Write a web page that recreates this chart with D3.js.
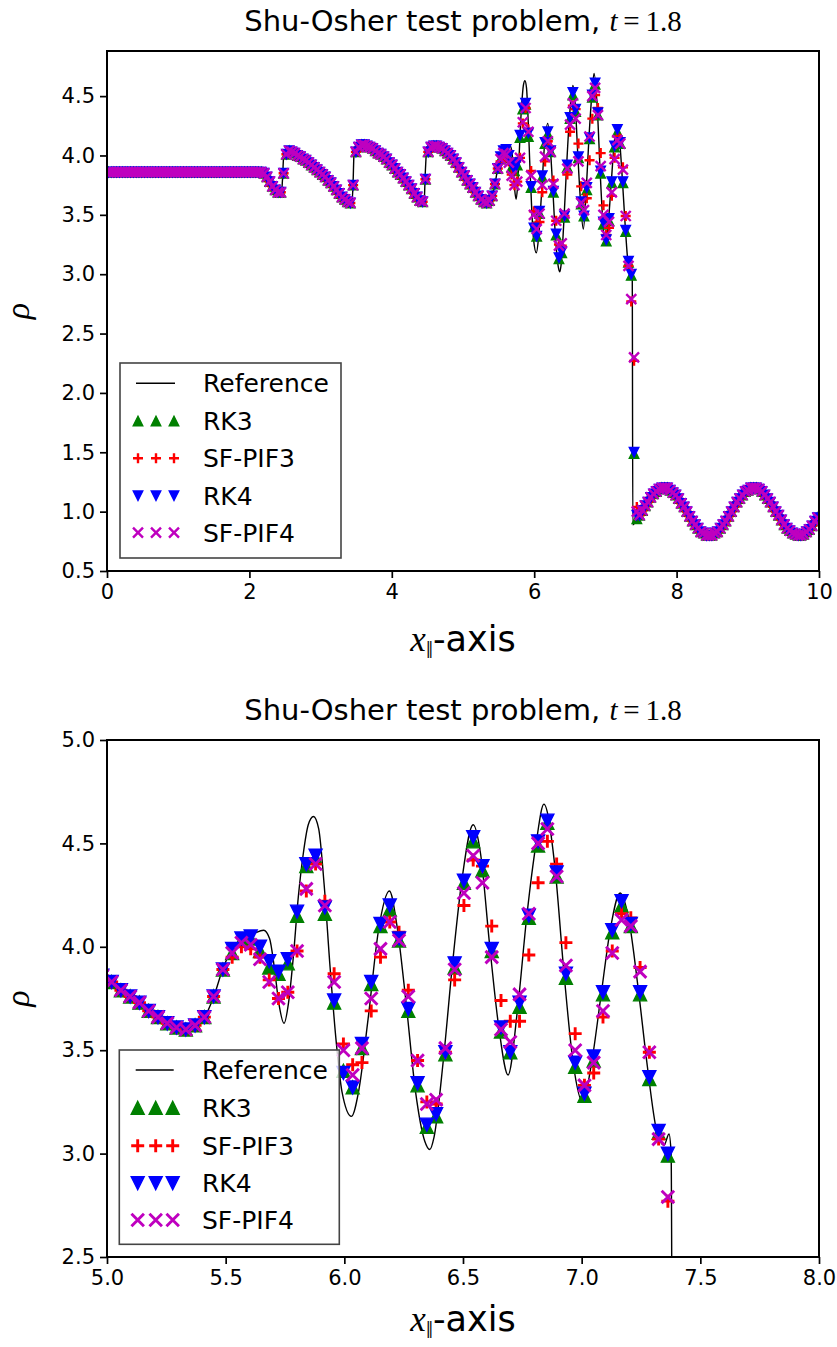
<!DOCTYPE html>
<html><head><meta charset="utf-8">
<script src="https://cdn.jsdelivr.net/npm/d3@7"></script>
<style>body{margin:0;background:#fff}svg{display:block}</style>
</head><body>
<svg id="c" width="837" height="1347"></svg>
<script>
// ---------------- DATA ----------------
const N_CELLS = 256;            // uniform grid on [0,10], cell centres
const X_MIN = 0, X_MAX = 10;

// density shared by all four schemes, cells 0..140
const rhoLeft = [
3.86,3.86,3.86,3.86,3.86,3.86,3.86,3.86,3.86,3.86,
3.86,3.86,3.86,3.86,3.86,3.86,3.86,3.86,3.86,3.86,
3.86,3.86,3.86,3.86,3.86,3.86,3.86,3.86,3.86,3.86,
3.86,3.86,3.86,3.86,3.86,3.86,3.86,3.86,3.86,3.86,
3.86,3.86,3.86,3.86,3.86,3.86,3.86,3.86,3.86,3.86,
3.86,3.86,3.86,3.86,3.86,3.86,3.85,3.82,3.78,3.74,
3.71,3.69,3.69,3.85,4.01,4.04,4.03,4.02,4.00,3.99,
3.97,3.96,3.94,3.92,3.90,3.88,3.86,3.84,3.82,3.79,
3.77,3.74,3.71,3.68,3.65,3.63,3.61,3.60,3.75,4.03,
4.07,4.09,4.09,4.08,4.07,4.06,4.04,4.02,4.01,3.99,
3.97,3.94,3.92,3.89,3.86,3.84,3.81,3.78,3.75,3.72,
3.68,3.65,3.62,3.61,3.80,4.03,4.07,4.08,4.08,4.07,
4.06,4.04,4.02,4.00,3.97,3.94,3.90,3.86,3.83,3.79,
3.76,3.73,3.69,3.66,3.63,3.61,3.60,3.62,3.66,3.76,
3.89];

// oscillatory zone, cells 141..190, one array per scheme
const rk3Osc = [
3.97,4.03,4.04,3.98,3.90,3.87,3.92,4.15,4.39,4.43,
4.16,3.73,3.40,3.32,3.51,3.82,4.10,4.18,4.03,3.69,
3.33,3.13,3.18,3.48,3.90,4.31,4.51,4.37,3.98,3.59,
3.49,3.71,4.14,4.49,4.60,4.34,3.85,3.42,3.28,3.45,
3.77,4.07,4.20,4.10,3.77,3.36,3.10,2.99,1.49,0.94];
const sfpif3Osc = [
3.95,4.00,3.99,3.95,3.84,3.75,3.78,3.98,4.27,4.40,
4.22,3.87,3.53,3.43,3.44,3.69,3.95,4.12,4.07,3.79,
3.45,3.25,3.24,3.49,3.84,4.20,4.42,4.39,4.10,3.74,
3.64,3.64,3.96,4.31,4.51,4.40,4.02,3.58,3.33,3.39,
3.66,3.98,4.16,4.14,3.90,3.49,3.07,2.77,2.27,1.04];
const rk4Osc = [
3.99,4.04,4.05,4.00,3.93,3.88,3.94,4.17,4.40,4.44,
4.19,3.74,3.39,3.32,3.53,3.83,4.11,4.20,4.04,3.70,
3.34,3.14,3.19,3.49,3.92,4.32,4.53,4.39,3.99,3.61,
3.49,3.73,4.15,4.51,4.61,4.36,3.87,3.44,3.29,3.47,
3.78,4.08,4.22,4.11,3.78,3.37,3.11,3.00,1.50,0.97];
const sfpif4Osc = [
3.97,4.02,4.01,3.94,3.83,3.75,3.78,3.98,4.28,4.40,
4.20,3.83,3.50,3.38,3.51,3.75,3.99,4.12,4.03,3.76,
3.45,3.24,3.26,3.51,3.89,4.26,4.44,4.31,3.95,3.60,
3.54,3.77,4.16,4.50,4.57,4.34,3.91,3.50,3.33,3.44,
3.69,3.97,4.13,4.10,3.88,3.49,3.07,2.79,2.30,1.00];

// pre-shock entropy wave, shared, cells 191..255
const rhoRight = [
0.97,1.01,1.05,1.08,1.12,1.15,1.17,1.19,1.20,1.20,
1.20,1.18,1.16,1.14,1.11,1.07,1.04,1.00,0.96,0.92,
0.89,0.86,0.83,0.82,0.80,0.80,0.80,0.82,0.83,0.86,
0.89,0.92,0.96,1.00,1.04,1.08,1.11,1.14,1.17,1.18,
1.20,1.20,1.20,1.19,1.17,1.14,1.11,1.08,1.04,1.00,
0.97,0.93,0.89,0.86,0.84,0.82,0.81,0.80,0.80,0.81,
0.83,0.85,0.88,0.92,0.95];

// fine reference solution
const refX = [0,2.15,2.22,2.28,2.34,2.40,2.45,2.465,2.48,2.50,2.56,2.65,2.75,2.85,2.95,3.05,3.15,3.25,3.32,3.40,
3.44,3.455,3.47,3.50,3.58,3.70,3.80,3.90,4.00,4.10,4.20,4.30,4.37,4.42,4.455,4.47,4.49,4.55,4.63,4.75,
4.85,4.95,5.02,5.10,5.18,5.25,5.33,5.40,5.45,5.49,5.53,5.57,5.60,5.63,5.66,5.685,5.705,5.725,5.746,5.765,
5.785,5.806,5.827,5.848,5.870,5.892,5.915,5.94,5.965,5.99,6.03,6.06,6.10,6.144,6.19,6.222,6.261,6.30,6.339,6.36,
6.378,6.417,6.456,6.495,6.543,6.574,6.613,6.652,6.69,6.73,6.769,6.808,6.841,6.886,6.925,6.964,7.004,7.042,7.081,7.120,
7.162,7.199,7.238,7.277,7.316,7.347,7.368,7.377,7.385,7.44,7.52,7.60,7.70,7.78,7.83,7.90,8.00,8.10,8.20,8.30,
8.40,8.455,8.52,8.60,8.70,8.80,8.90,9.00,9.084,9.15,9.25,9.35,9.45,9.55,9.65,9.71,9.80,9.90,10.0];
const refY = [3.857,3.857,3.84,3.79,3.73,3.69,3.68,3.80,3.98,4.02,4.04,4.01,3.97,3.93,3.88,3.83,3.77,3.69,3.64,3.60,
3.60,3.75,4.02,4.07,4.09,4.06,4.02,3.97,3.92,3.85,3.77,3.69,3.63,3.60,3.62,3.85,4.04,4.08,4.08,4.04,
3.97,3.88,3.83,3.76,3.69,3.63,3.60,3.64,3.76,3.90,3.99,4.03,4.05,4.07,4.08,4.04,3.90,3.72,3.63,3.73,
3.95,4.24,4.45,4.59,4.63,4.57,4.30,3.90,3.55,3.30,3.18,3.30,3.65,4.08,4.27,4.10,3.72,3.30,3.06,3.02,
3.08,3.45,3.92,4.32,4.59,4.45,4.00,3.60,3.38,3.70,4.15,4.50,4.69,4.40,3.88,3.44,3.25,3.44,3.76,4.08,
4.26,4.13,3.80,3.42,3.11,3.04,3.095,3.00,0.89,0.93,1.01,1.08,1.16,1.19,1.20,1.19,1.13,1.04,0.94,0.86,
0.81,0.80,0.81,0.86,0.94,1.03,1.12,1.18,1.20,1.19,1.14,1.05,0.96,0.87,0.82,0.80,0.82,0.89,0.97];

const seriesNames = ["RK3","SF-PIF3","RK4","SF-PIF4"];
const seriesColors = ["#008000","#ff0000","#0000ff","#bf00bf"];
const seriesMarkers = ["triUp","plus","triDown","cross"];
const seriesOsc = [rk3Osc, sfpif3Osc, rk4Osc, sfpif4Osc];

const topXTicks = [0,2,4,6,8,10];
const topYTicks = [0.5,1.0,1.5,2.0,2.5,3.0,3.5,4.0,4.5];
const botXTicks = [5.0,5.5,6.0,6.5,7.0,7.5,8.0];
const botYTicks = [2.5,3.0,3.5,4.0,4.5,5.0];
const titleText = "Shu-Osher test problem, ";

// ---------------- BUILD ----------------
const xGrid = d3.range(N_CELLS).map(i => X_MIN + (i + 0.5) * (X_MAX - X_MIN) / N_CELLS);
const series = seriesNames.map((name, k) => ({
  name, color: seriesColors[k], marker: seriesMarkers[k],
  values: rhoLeft.concat(seriesOsc[k], rhoRight)
}));
const refPts = d3.zip(refX, refY);

const SANS = "'DejaVu Sans', sans-serif";
const SERIF = "'Liberation Serif', 'DejaVu Serif', serif";
const svg = d3.select("#c");
const defs = svg.append("defs");

function markerPath(type, s) {
  const h = s / 2;
  switch (type) {
    case "triUp": return `M0,${-h}L${-h},${h}L${h},${h}Z`;
    case "triDown": return `M0,${h}L${-h},${-h}L${h},${-h}Z`;
    case "plus": return `M${-h},0H${h}M0,${-h}V${h}`;
    case "cross": return `M${-h},${-h}L${h},${h}M${-h},${h}L${h},${-h}`;
  }
}
function styleMarker(sel, s, sz) {
  const filled = s.marker.startsWith("tri");
  sel.attr("d", markerPath(s.marker, filled ? sz.tri : (s.marker === "plus" ? sz.plus : sz.cross)))
     .attr("fill", filled ? s.color : "none")
     .attr("stroke", s.color)
     .attr("stroke-width", filled ? sz.triEdge : sz.stroke)
     .attr("stroke-linejoin", "miter");
}

function drawPanel(cfg) {
  const x = d3.scaleLinear().domain(cfg.xDomain).range([cfg.left, cfg.right]);
  const y = d3.scaleLinear().domain(cfg.yDomain).range([cfg.bottom, cfg.top]);
  const clipId = "clip" + cfg.id;
  defs.append("clipPath").attr("id", clipId).append("rect")
    .attr("x", cfg.left).attr("y", cfg.top)
    .attr("width", cfg.right - cfg.left).attr("height", cfg.bottom - cfg.top);
  const g = svg.append("g");
  const plot = g.append("g").attr("clip-path", `url(#${clipId})`);

  plot.append("path").datum(refPts)
    .attr("d", d3.line().x(d => x(d[0])).y(d => y(d[1])).curve(d3.curveMonotoneX))
    .attr("fill", "none").attr("stroke", "#000").attr("stroke-width", 1.4);

  series.forEach(s => {
    plot.append("g").selectAll("path")
      .data(xGrid.map((xv, i) => [xv, s.values[i]]))
      .join("path")
      .attr("transform", d => `translate(${x(d[0])},${y(d[1])})`)
      .call(styleMarker, s, cfg.sz);
  });

  // axes
  const xa = g.append("g").attr("transform", `translate(0,${cfg.bottom})`)
    .call(d3.axisBottom(x).tickValues(cfg.xTicks).tickFormat(cfg.xFmt).tickSizeInner(7).tickSizeOuter(0).tickPadding(6));
  const ya = g.append("g").attr("transform", `translate(${cfg.left},0)`)
    .call(d3.axisLeft(y).tickValues(cfg.yTicks).tickFormat(d3.format(".1f")).tickSizeInner(7).tickSizeOuter(0).tickPadding(5));
  [xa, ya].forEach(a => {
    a.select(".domain").remove();
    a.selectAll(".tick line").attr("stroke", "#000").attr("stroke-width", 1.7);
    a.selectAll(".tick text").attr("font-family", SANS).attr("font-size", 21).attr("fill", "#000");
  });
  g.append("rect").attr("x", cfg.left).attr("y", cfg.top)
    .attr("width", cfg.right - cfg.left).attr("height", cfg.bottom - cfg.top)
    .attr("fill", "none").attr("stroke", "#000").attr("stroke-width", 2);

  // title
  const t = g.append("text").attr("x", (cfg.left + cfg.right) / 2).attr("y", cfg.titleY)
    .attr("text-anchor", "middle").attr("font-size", 29).attr("font-family", SANS);
  t.append("tspan").text(titleText);
  t.append("tspan").attr("font-family", SERIF).attr("font-style", "italic").text("t");
  t.append("tspan").attr("font-family", SERIF).text("\u2009=\u20091.8");

  // x label
  const xl = g.append("text").attr("x", (cfg.left + cfg.right) / 2).attr("y", cfg.xlabelY)
    .attr("text-anchor", "middle").attr("font-size", 35).attr("font-family", SANS);
  xl.append("tspan").attr("font-family", SERIF).attr("font-style", "italic").text("x");
  xl.append("tspan").attr("font-family", SERIF).attr("font-size", 25).attr("dy", 7).text("\u2016");
  xl.append("tspan").attr("dy", -7).text("-axis");

  // y label
  g.append("text").attr("transform", `translate(${cfg.ylabelX},${(cfg.top + cfg.bottom) / 2}) rotate(-90)`)
    .attr("text-anchor", "middle").attr("font-family", SERIF).attr("font-style", "italic")
    .attr("font-size", 34).text("\u03c1");

  // legend
  const L = cfg.legend;
  const lg = g.append("g");
  lg.append("rect").attr("x", L.x0).attr("y", L.y0).attr("width", L.x1 - L.x0).attr("height", L.y1 - L.y0)
    .attr("fill", "#fff").attr("fill-opacity", 0.8).attr("stroke", "#444").attr("stroke-width", 1.6);
  const rows = ["Reference"].concat(seriesNames);
  rows.forEach((lab, r) => {
    const yy = L.rowY[r];
    if (r === 0) {
      lg.append("line").attr("x1", L.mx[0] - 2).attr("x2", L.mx[2] + 1).attr("y1", yy).attr("y2", yy)
        .attr("stroke", "#000").attr("stroke-width", 1.4);
    } else {
      const s = series[r - 1];
      L.mx.forEach(mx => lg.append("path").attr("transform", `translate(${mx},${yy})`).call(styleMarker, s, cfg.sz));
    }
    lg.append("text").attr("x", L.textX).attr("y", yy).attr("dy", "0.36em")
      .attr("font-family", SANS).attr("font-size", 25).text(lab);
  });
}

drawPanel({
  id: "top", left: 107, right: 819, top: 51, bottom: 571,
  xDomain: [0, 10], yDomain: [0.5, 4.88],
  xTicks: topXTicks, yTicks: topYTicks, xFmt: d3.format("d"),
  sz: { tri: 9.5, triEdge: 1.4, plus: 10, cross: 10, stroke: 2.4 },
  titleY: 31, xlabelY: 651, ylabelX: 29,
  legend: { x0: 120, y0: 363, x1: 341, y1: 558, rowY: [383.3, 421, 458.3, 495.7, 532.7], mx: [138, 156, 174], textX: 203 }
});
drawPanel({
  id: "bot", left: 107, right: 819, top: 740, bottom: 1257,
  xDomain: [5, 8], yDomain: [2.5, 5.0],
  xTicks: botXTicks, yTicks: botYTicks, xFmt: d3.format(".1f"),
  sz: { tri: 13, triEdge: 1.4, plus: 13, cross: 12.5, stroke: 2.9 },
  titleY: 720, xlabelY: 1331, ylabelX: 29,
  legend: { x0: 119.3, y0: 1050, x1: 339.3, y1: 1244.3, rowY: [1070, 1107.7, 1145.7, 1183.3, 1220], mx: [137.7, 155.7, 172.7], textX: 202 }
});
</script>
</body></html>
